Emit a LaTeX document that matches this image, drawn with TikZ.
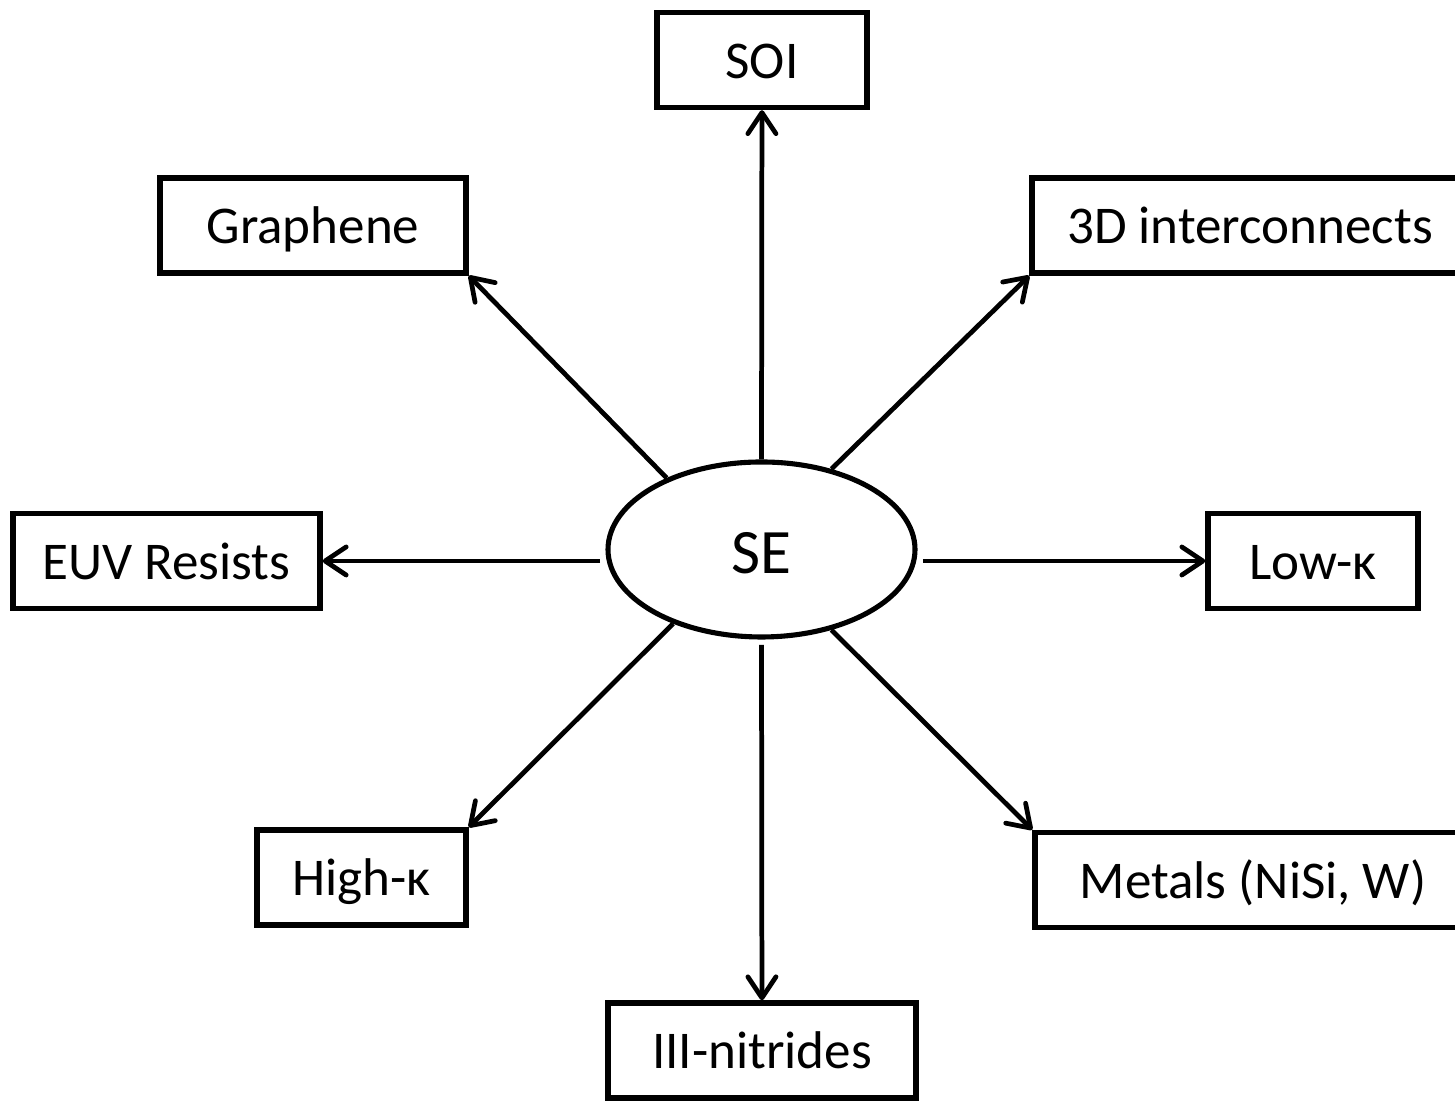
\documentclass[tikz,border=0pt]{standalone}
\usepackage{fontspec}
\setmainfont{Carlito}
\usetikzlibrary{arrows.meta,shapes.geometric}

\begin{document}
\begin{tikzpicture}[-{Straight Barb[length=6pt,width=8pt,line cap=round,line join=round]},line width=1.35pt,
  box/.style={draw,rectangle,line width=1.55pt,inner sep=0pt,minimum height=0.95cm,text height=10.5pt,text depth=0pt,font=\fontsize{15.1}{16}\selectfont},
  blob/.style={draw,ellipse,line width=1.45pt,inner sep=0pt,minimum width=3.07cm,minimum height=1.75cm,text height=13.5pt,text depth=0pt,font=\fontsize{18}{20}\selectfont}]
  \clip (0,0) rectangle (14.55,11.01);
  \node[blob] (SE) at (7.615,5.515) {SE};
  \node[box,minimum width=2.1cm] (SOI) at (7.62,10.41) {SOI};
  \node[box,minimum width=3.06cm] (Gr) at (3.13,8.755) {Graphene};
  \node[box,minimum width=4.36cm] (TDI) at (12.50,8.755) {3D interconnects};
  \node[box,minimum width=3.07cm] (EUV) at (1.665,5.40) {EUV Resists};
  \node[box,minimum width=2.1cm] (LowK) at (13.13,5.40) {Low-κ};
  \node[box,minimum width=2.09cm] (HighK) at (3.615,2.235) {High-κ};
  \node[box,minimum width=3.08cm] (III) at (7.62,0.505) {III-nitrides};
  \node[box,minimum width=4.36cm] (Met) at (12.53,2.21) {Metals (NiSi, W)};
  \path (SE.north) edge (SOI);
  \path (SE.143) edge (Gr.south east);
  \path (SE.49) edge (TDI.south west);
  \path (SE.west |- EUV) edge [shorten <=1.5pt] (EUV);
  \path (SE.east |- LowK) edge [shorten <=1.5pt] (LowK);
  \path (SE.220) edge (HighK.north east);
  \path (SE.south) edge [shorten <=1.5pt] (III);
  \path (SE.-49) edge (Met.north west);
\end{tikzpicture}
\end{document}
